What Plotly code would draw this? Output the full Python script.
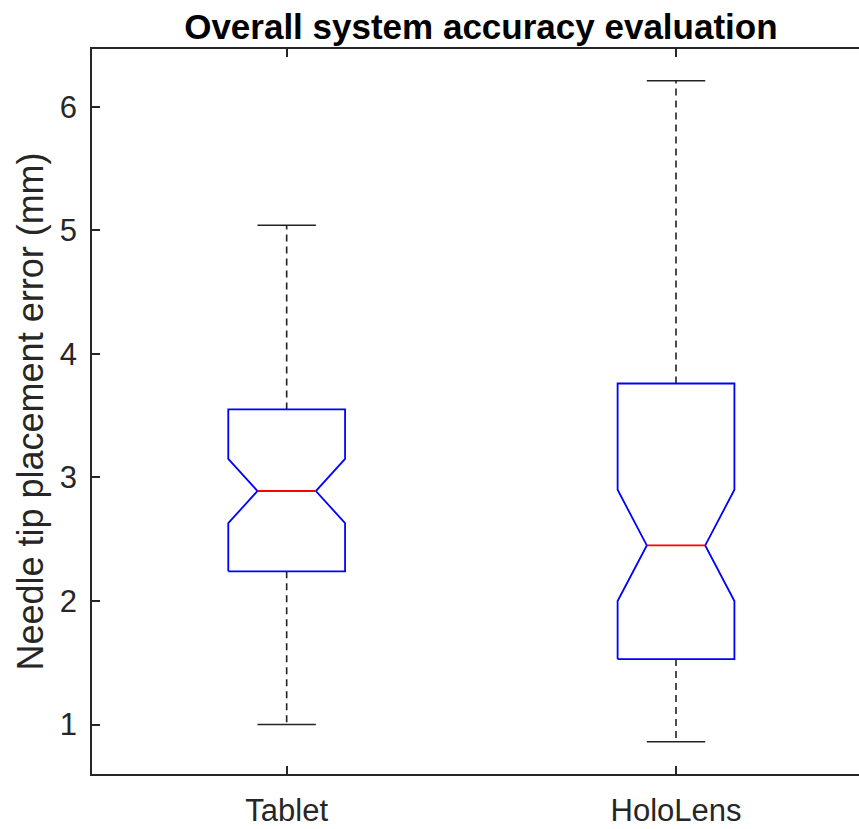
import plotly.graph_objects as go

# ---- data ----
categories = ["Tablet", "HoloLens"]
positions = [1, 2]
upper_whisker = [5.04, 6.21]
q3 = [3.55, 3.76]
notch_hi = [3.15, 2.90]
median = [2.89, 2.45]
notch_lo = [2.63, 2.00]
q1 = [2.24, 1.53]
lower_whisker = [1.00, 0.86]
y_ticks = [1, 2, 3, 4, 5, 6]

# ---- style ----
BOX_HALF = 0.15
NOTCH_HALF = 0.075
CAP_HALF = 0.075
BLUE = "#0000ff"
RED = "#ff0000"
AXIS = "#262626"
WHISK = "#222222"
FONT = "Liberation Sans, Arial, Helvetica, sans-serif"

fig = go.Figure()

# notched box outlines
bx, by = [], []
for p, a, nl, m, nh, b in zip(positions, q1, notch_lo, median, notch_hi, q3):
    xs = [p - BOX_HALF, p - BOX_HALF, p - NOTCH_HALF, p - BOX_HALF, p - BOX_HALF,
          p + BOX_HALF, p + BOX_HALF, p + NOTCH_HALF, p + BOX_HALF, p + BOX_HALF,
          p - BOX_HALF]
    ys = [a, nl, m, nh, b, b, nh, m, nl, a, a]
    bx += xs + [None]
    by += ys + [None]

# whiskers
wx, wy = [], []
for p, a, b, lo, hi in zip(positions, q1, q3, lower_whisker, upper_whisker):
    wx += [p, p, None, p, p, None]
    wy += [b, hi, None, a, lo, None]
fig.add_trace(go.Scatter(x=wx, y=wy, mode="lines",
                         line=dict(color=WHISK, width=1.6, dash="7px,5px"),
                         hoverinfo="skip", showlegend=False))

# caps
cx, cy = [], []
for p, lo, hi in zip(positions, lower_whisker, upper_whisker):
    cx += [p - CAP_HALF, p + CAP_HALF, None, p - CAP_HALF, p + CAP_HALF, None]
    cy += [hi, hi, None, lo, lo, None]
fig.add_trace(go.Scatter(x=cx, y=cy, mode="lines",
                         line=dict(color=WHISK, width=1.5),
                         hoverinfo="skip", showlegend=False))

fig.add_trace(go.Scatter(x=bx, y=by, mode="lines",
                         line=dict(color=BLUE, width=1.8),
                         hoverinfo="skip", showlegend=False))

# medians
mx, my = [], []
for p, m in zip(positions, median):
    mx += [p - NOTCH_HALF, p + NOTCH_HALF, None]
    my += [m, m, None]
fig.add_trace(go.Scatter(x=mx, y=my, mode="lines",
                         line=dict(color=RED, width=1.8),
                         hoverinfo="skip", showlegend=False))

fig.update_layout(
    width=859, height=829,
    margin=dict(l=92, r=0, t=49, b=55, autoexpand=False),
    paper_bgcolor="white", plot_bgcolor="white",
    font=dict(family=FONT, color="#262626"),
    title=dict(text="<b>Overall system accuracy evaluation</b>",
               font=dict(size=35, color="black", family=FONT),
               x=0.507, xref="paper", xanchor="center",
               y=0.9674, yref="container", yanchor="middle"),
    showlegend=False,
)
fig.update_xaxes(
    range=[0.5, 2.47], tickvals=positions, ticktext=categories,
    ticks="inside", ticklen=8, tickwidth=1.5, tickcolor=AXIS,
    showline=True, linecolor=AXIS, linewidth=1.5, mirror="allticks",
    showgrid=False, zeroline=False, ticklabelstandoff=8,
    tickfont=dict(size=31, family=FONT, color="#262626"),
)
fig.update_yaxes(
    range=[0.6, 6.467], tickvals=y_ticks,
    ticks="inside", ticklen=8, tickwidth=1.5, tickcolor=AXIS,
    showline=True, linecolor=AXIS, linewidth=1.5, mirror=False,
    showgrid=False, zeroline=False, ticklabelstandoff=7,
    tickfont=dict(size=31, family=FONT, color="#262626"),
    title=dict(text="Needle tip placement error (mm)",
               font=dict(size=36, family=FONT, color="#262626"), standoff=5),
)

fig.write_html("out.html", config={"displayModeBar": False},
               post_script="document.body.style.margin='0px';")
